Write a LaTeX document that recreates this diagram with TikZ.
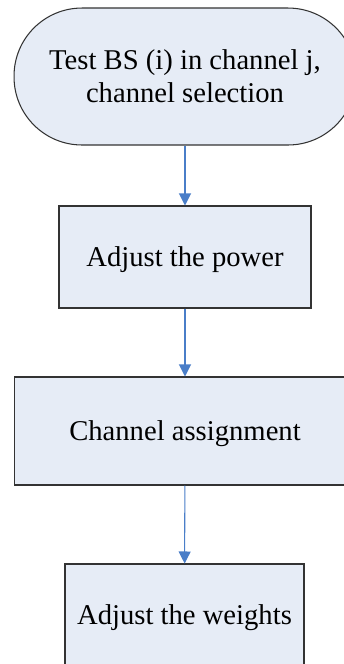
\documentclass[tikz,border=0pt]{standalone}
\usepackage{fontspec}
\setmainfont{Liberation Serif}
\usetikzlibrary{arrows.meta}

\definecolor{boxfill}{HTML}{E6ECF6}
\definecolor{flowblue}{HTML}{4A7EC8}

\begin{document}
\begin{tikzpicture}[
  x=0.02cm, y=-0.02cm,
  box/.style={draw=black!80, line width=0.6pt, fill=boxfill, inner sep=0pt,
    font=\fontsize{16.3}{18.8}\selectfont, align=center, text depth=0pt},
  flow/.style={draw=flowblue, line width=0.6pt,
    -{Triangle[length=0.24cm, width=0.24cm]}},
]

% 画布范围（像素坐标）
\clip (0, 0) rectangle (344, 664);
\useasboundingbox (0, 0) rectangle (344, 664);

% 起始框（圆角）
\node[box, rounded corners=1.36cm, minimum width=6.84cm, minimum height=2.74cm]
  (test) at (185, 76.5) {Test BS (i) in channel j,\\channel selection};

% 调整功率
\node[box, minimum width=5.04cm, minimum height=2.04cm]
  (power) at (185, 257) {Adjust the power};

% 信道分配
\node[box, minimum width=6.84cm, minimum height=2.16cm]
  (assign) at (185, 431) {Channel assignment};

% 调整权重（底边在画布外）
\node[box, minimum width=4.78cm, minimum height=2.02cm]
  (weights) at (184.5, 614.5) {Adjust the weights};

% 连线
\draw[flow] (test) -- (power);
\draw[flow] (power) -- (assign);
\draw[flow] (assign) -- (weights);

\end{tikzpicture}
\end{document}
